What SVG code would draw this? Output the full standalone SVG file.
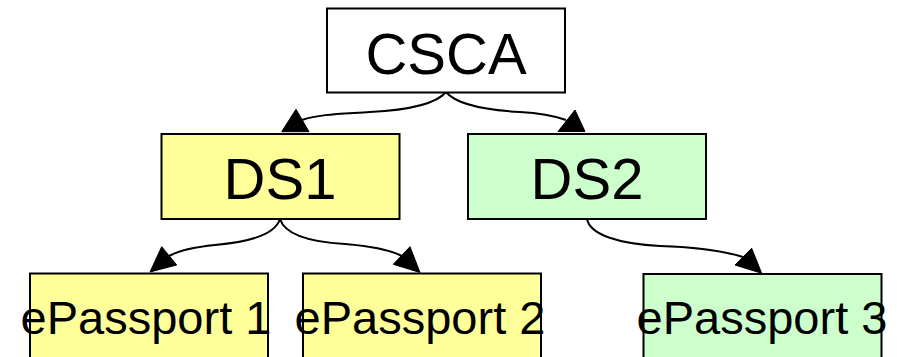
<svg xmlns="http://www.w3.org/2000/svg" width="897" height="357" viewBox="0 0 897 357">
<style>
.box{stroke:#000;stroke-width:2}
.lbl{font-family:"Liberation Sans",Arial,sans-serif;fill:#000;text-anchor:middle}
.big{font-size:58px}
.small{font-size:47px}
.edge{fill:none;stroke:#000;stroke-width:2}
.head{fill:#000;stroke:#000;stroke-width:1}
</style>
<rect width="897" height="357" fill="#fff"/>
<g id="connectors">
<path class="edge" d="M446,92 C436,104 410,110 370,112 C340,114 320,114 302,120"/>
<polygon class="head" points="281.7,131.7 296,109.3 309,131.7"/>
<path class="edge" d="M446,92 C456,104 485,110 520,112 C540,113 552,115 566,120"/>
<polygon class="head" points="585,131.5 575,110 558,131.5"/>
<path class="edge" d="M280,219 C275,235 250,242 215,245 C195,247 180,250 169,256"/>
<polygon class="head" points="150,272 161.7,246.7 176.7,265"/>
<path class="edge" d="M280,219 C285,235 310,242 345,244 C370,246 388,249 402,256"/>
<polygon class="head" points="420,272.5 410,246.7 393.3,264.3"/>
<path class="edge" d="M587,219 C590,235 620,244 660,246 C695,247 720,250 743,257"/>
<polygon class="head" points="761.7,273.3 751.7,248.3 735,265"/>
</g>
<g id="CSCA">
<rect class="box" x="327" y="8.5" width="238" height="84" fill="#ffffff"/>
<text class="lbl big" x="446" y="74">CSCA</text>
</g>
<g id="DS1">
<rect class="box" x="161.5" y="134" width="238" height="85" fill="#ffff99"/>
<text class="lbl big" x="280" y="199">DS1</text>
</g>
<g id="DS2">
<rect class="box" x="468" y="134" width="238" height="85" fill="#ccffcc"/>
<text class="lbl big" x="587" y="199">DS2</text>
</g>
<g id="ePassport1">
<rect class="box" x="30" y="273.5" width="238" height="90" fill="#ffff99"/>
<text class="lbl small" x="146" y="334">ePassport 1</text>
</g>
<g id="ePassport2">
<rect class="box" x="303" y="273.5" width="238" height="90" fill="#ffff99"/>
<text class="lbl small" x="420" y="334">ePassport 2</text>
</g>
<g id="ePassport3">
<rect class="box" x="643.5" y="274" width="238" height="90" fill="#ccffcc"/>
<text class="lbl small" x="762" y="334">ePassport 3</text>
</g>
</svg>
